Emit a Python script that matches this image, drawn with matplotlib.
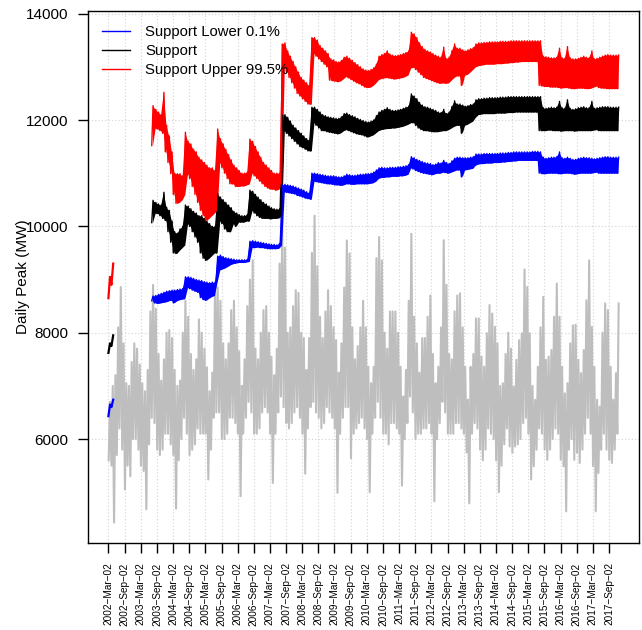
import matplotlib
matplotlib.use('Agg')
import matplotlib.pyplot as plt
from matplotlib.lines import Line2D
import numpy as np
import pandas as pd

plt.rcParams['font.family'] = ['Liberation Sans', 'DejaVu Sans']

# daily peak (MW): monthly low / high, 2002-03 .. 2017-12
peak_hi = [6700, 7000, 7200, 8100, 8860, 7800, 7050, 7000, 7450, 7800,
           7700, 7400, 7050, 6900, 7300, 8400, 8900, 8450, 7600, 7100, 7500, 8000,
           8050, 7900, 7300, 7000, 7100, 8000, 8600, 8300, 7600, 7300, 7500, 8250,
           8000, 7700, 7350, 6900, 7250, 8900, 8850, 8600, 7800, 7500, 7800, 8425,
           8600, 8100, 7650, 7000, 7500, 8500, 9000, 9360, 7700, 7500, 8000, 8425,
           8500, 8000, 7550, 7200, 7700, 9300, 10100, 9600, 8000, 8100, 8500, 8800,
           8750, 8000, 7900, 7300, 7900, 9500, 10200, 9250, 8300, 7900, 8400, 8800,
           8500, 8100, 7860, 7250, 7800, 8850, 9735, 9490, 8100, 7500, 7750, 8100,
           8600, 8100, 7360, 7050, 7360, 9400, 9800, 9360, 8000, 7700, 8400, 8400,
           8400, 8000, 7360, 6800, 7300, 8600, 9860, 8300, 7800, 7250, 7900, 7900,
           8300, 8700, 7600, 7050, 7360, 8100, 9740, 8900, 7600, 7500, 8400, 8700,
           8740, 8100, 7360, 6740, 7360, 7600, 8270, 8270, 7550, 7360, 7990, 8520,
           8360, 8110, 7800, 7000, 7050, 7600, 8000, 7700, 6990, 7490, 7860, 7990,
           9190, 8860, 7990, 7000, 6740, 7360, 8100, 8675, 7490, 7550, 7675, 8300,
           8925, 8300, 7360, 6860, 7050, 7800, 8140, 8150, 7490, 7240, 7675, 8610,
           9360, 8110, 7360, 6740, 6610, 8000, 8550, 8425, 7360, 6740, 7240, 8550]
peak_lo = [5600, 5500, 4430, 5700, 6200, 5800, 5050, 5500, 5300, 6000,
           6000, 5800, 5500, 5400, 4680, 5900, 6400, 6300, 5800, 5700, 5800, 6100,
           6100, 5900, 5700, 4690, 5600, 6000, 6400, 6100, 5700, 5800, 5900, 6200,
           6100, 6100, 6100, 5240, 5800, 6400, 6500, 6500, 6000, 6000, 6100, 6400,
           6400, 6300, 6100, 4925, 6100, 6400, 6700, 6500, 6100, 6100, 6200, 6500,
           6600, 6500, 6100, 5175, 6100, 6500, 6800, 6600, 6300, 6200, 6300, 6500,
           6600, 6400, 6100, 5350, 6200, 6600, 6700, 6500, 6400, 6200, 6300, 6600,
           6500, 6400, 6200, 4990, 6100, 6400, 6600, 6600, 5640, 6100, 6200, 6300,
           6400, 6200, 6000, 5000, 6100, 6400, 6700, 6400, 6100, 6100, 5900, 6300,
           6300, 6200, 6100, 5125, 6000, 6300, 6800, 6500, 6000, 6100, 6100, 6200,
           6200, 6300, 6100, 4830, 6000, 6300, 6700, 6500, 6100, 6100, 6100, 6300,
           6300, 6200, 6100, 5750, 4790, 6100, 6300, 6200, 5800, 5600, 5800, 6200,
           6100, 6000, 5600, 5000, 5500, 5900, 6200, 5860, 5740, 5860, 5900, 6000,
           6300, 6400, 6100, 5240, 5490, 5800, 6200, 6100, 5800, 5610, 5800, 6000,
           6200, 6100, 5610, 5490, 4640, 5800, 6000, 5610, 5740, 5550, 5800, 6100,
           6400, 6100, 5490, 4640, 5360, 5800, 6100, 5800, 5610, 5550, 5800, 6100]

# first short stretch of the support curves, Mar-Apr 2002
early_dates = ['2002-03-02', '2002-03-20', '2002-04-05', '2002-04-25']
early_lower = [6430, 6650, 6600, 6740]
early_support = [7620, 7800, 7750, 7950]
early_upper = [8650, 9050, 8900, 9300]

# support curves, monthly low / high, 2003-07 .. 2017-12
lower_lo = [8600, 8560, 8550, 8560, 8570, 8580,
            8600, 8610, 8560, 8600, 8620, 8630, 8640, 8850, 8830, 8800, 8780, 8760,
            8660, 8620, 8610, 8650, 8680, 8700, 8950, 9180, 9200, 9220, 9250, 9280,
            9300, 9310, 9320, 9320, 9320, 9330, 9340, 9600, 9600, 9610, 9600, 9600,
            9590, 9580, 9580, 9580, 9580, 9590, 9650, 10650, 10640, 10630, 10620, 10610,
            10580, 10570, 10550, 10530, 10520, 10510, 10850, 10840, 10830, 10820, 10810, 10800,
            10800, 10790, 10780, 10780, 10770, 10780, 10800, 10800, 10790, 10790, 10800, 10800,
            10800, 10800, 10800, 10810, 10820, 10850, 10900, 10920, 10920, 10930, 10930, 10940,
            10940, 10940, 10950, 10950, 10960, 10980, 11100, 11080, 11050, 11030, 11010, 11000,
            10990, 10980, 10970, 10990, 11000, 11000, 11020, 11010, 11000, 11020, 11040, 11060,
            11060, 10930, 11060, 11070, 11080, 11090, 11150, 11170, 11180, 11180, 11190, 11190,
            11190, 11200, 11200, 11200, 11210, 11210, 11220, 11220, 11230, 11230, 11240, 11240,
            11240, 11240, 11240, 11240, 11240, 11240, 11000, 10990, 10990, 11000, 11000, 11000,
            11000, 10990, 10990, 11000, 11000, 11000, 10990, 10980, 10990, 11000, 11000, 11000,
            11000, 11000, 11010, 11020, 11000, 11000, 11000, 11000, 11000, 11000, 11000, 11000]
lower_hi = [8690, 8700, 8720, 8740, 8760, 8780,
            8790, 8800, 8800, 8810, 8820, 8830, 9050, 9050, 9040, 9020, 9000, 8990,
            8980, 8960, 8950, 8940, 8950, 8950, 9440, 9460, 9430, 9410, 9400, 9390,
            9380, 9370, 9370, 9370, 9370, 9380, 9720, 9730, 9720, 9710, 9700, 9690,
            9680, 9670, 9660, 9660, 9650, 9680, 10780, 10790, 10780, 10770, 10760, 10740,
            10720, 10700, 10680, 10650, 10630, 11000, 11000, 10990, 10980, 10970, 10960, 10950,
            10950, 10950, 10940, 10930, 10930, 10950, 10980, 10970, 10960, 10960, 10970, 10980,
            10980, 10990, 10990, 11000, 11020, 11060, 11100, 11110, 11100, 11100, 11110, 11110,
            11110, 11120, 11120, 11130, 11140, 11160, 11310, 11290, 11260, 11240, 11220, 11200,
            11190, 11180, 11160, 11170, 11200, 11190, 11240, 11200, 11180, 11230, 11280, 11300,
            11300, 11290, 11290, 11290, 11300, 11310, 11360, 11360, 11360, 11370, 11370, 11370,
            11370, 11370, 11370, 11380, 11380, 11380, 11390, 11390, 11400, 11400, 11400, 11400,
            11400, 11400, 11400, 11410, 11410, 11410, 11400, 11300, 11280, 11290, 11300, 11300,
            11310, 11400, 11290, 11280, 11300, 11280, 11260, 11260, 11280, 11290, 11300, 11290,
            11290, 11280, 11270, 11280, 11290, 11300, 11310, 11310, 11300, 11300, 11300, 11300]

support_lo = [10070, 10250, 10240, 10200, 10150, 10110,
              9900, 9700, 9500, 9490, 9550, 9600, 9650, 10050, 10000, 9900, 9800, 9700,
              9500, 9400, 9360, 9400, 9450, 9500, 9500, 10100, 10050, 9950, 9900, 9900,
              10050, 10000, 10080, 10080, 10080, 10100, 10100, 10300, 10250, 10200, 10170, 10150,
              10150, 10150, 10140, 10150, 10150, 10160, 10200, 11800, 11750, 11700, 11650, 11600,
              11550, 11500, 11480, 11450, 11420, 11420, 11950, 11900, 11850, 11800, 11800, 11780,
              11770, 11760, 11750, 11740, 11760, 11800, 11820, 11800, 11780, 11760, 11740, 11730,
              11720, 11700, 11680, 11700, 11720, 11760, 11800, 11820, 11830, 11840, 11840, 11850,
              11850, 11860, 11870, 11880, 11900, 11920, 11950, 11950, 11900, 11850, 11820, 11800,
              11800, 11790, 11780, 11780, 11780, 11790, 11800, 11800, 11820, 11850, 11880, 11900,
              11900, 11750, 11900, 11920, 11950, 11980, 12050, 12100, 12110, 12120, 12120, 12120,
              12120, 12120, 12130, 12130, 12130, 12130, 12140, 12140, 12140, 12150, 12150, 12150,
              12150, 12150, 12150, 12150, 12150, 12150, 11800, 11800, 11800, 11810, 11810, 11800,
              11800, 11800, 11790, 11800, 11800, 11800, 11800, 11790, 11800, 11800, 11800, 11800,
              11800, 11800, 11810, 11820, 11800, 11800, 11800, 11800, 11800, 11800, 11800, 11800]
support_hi = [10490, 10450, 10420, 10400, 10640, 10360,
              10300, 10100, 9900, 9870, 9950, 10000, 10400, 10380, 10330, 10280, 10250, 10200,
              10200, 10150, 10100, 10050, 10000, 10000, 10620, 10550, 10500, 10450, 10400, 10350,
              10280, 10250, 10220, 10200, 10200, 10220, 10680, 10660, 10600, 10550, 10500, 10450,
              10420, 10380, 10350, 10330, 10320, 10330, 12100, 12100, 12050, 11980, 11900, 11850,
              11800, 11750, 11700, 11650, 11620, 12240, 12240, 12200, 12150, 12100, 12080, 12060,
              12050, 12040, 12030, 12030, 12060, 12120, 12130, 12100, 12080, 12060, 12030, 12010,
              11990, 11970, 11960, 11980, 12000, 12080, 12150, 12180, 12200, 12230, 12200, 12180,
              12180, 12190, 12200, 12220, 12240, 12260, 12490, 12450, 12400, 12330, 12280, 12250,
              12240, 12220, 12200, 12180, 12150, 12140, 12200, 12120, 12150, 12250, 12360, 12300,
              12300, 12280, 12260, 12270, 12290, 12300, 12380, 12400, 12400, 12410, 12410, 12420,
              12420, 12420, 12420, 12430, 12430, 12430, 12440, 12440, 12440, 12440, 12440, 12440,
              12440, 12440, 12440, 12440, 12440, 12440, 12440, 12230, 12220, 12230, 12240, 12230,
              12240, 12350, 12230, 12220, 12380, 12220, 12200, 12210, 12230, 12240, 12250, 12230,
              12230, 12350, 12220, 12230, 12240, 12250, 12250, 12250, 12240, 12240, 12240, 12240]

upper_lo = [11520, 11850, 11830, 11800, 11750, 11400,
            11200, 10990, 10600, 10430, 10450, 10500, 10600, 10990, 10900, 10750, 10600, 10450,
            10300, 10200, 10110, 10150, 10200, 10250, 10300, 11200, 11100, 11000, 10900, 10800,
            10800, 10750, 10750, 10760, 10760, 10780, 10800, 11000, 10950, 10900, 10850, 10800,
            10750, 10720, 10700, 10700, 10680, 10700, 10800, 12990, 12900, 12800, 12700, 12600,
            12500, 12450, 12400, 12350, 12300, 12300, 13250, 13200, 13150, 13100, 13050, 13000,
            12750, 12740, 12730, 12720, 12740, 12780, 12820, 12790, 12760, 12730, 12700, 12680,
            12650, 12620, 12610, 12620, 12650, 12700, 12760, 12780, 12790, 12800, 12790, 12780,
            12770, 12780, 12790, 12800, 12820, 12850, 12980, 12990, 12950, 12900, 12850, 12800,
            12780, 12760, 12740, 12720, 12700, 12690, 12700, 12690, 12700, 12750, 12800, 12830,
            12830, 12650, 12840, 12860, 12900, 12950, 13000, 13020, 13030, 13040, 13050, 13050,
            13050, 13050, 13060, 13060, 13060, 13070, 13070, 13080, 13080, 13090, 13090, 13100,
            13100, 13100, 13100, 13100, 13100, 13100, 12650, 12640, 12630, 12630, 12620, 12620,
            12620, 12610, 12600, 12610, 12610, 12600, 12590, 12590, 12600, 12600, 12600, 12590,
            12590, 12600, 12620, 12640, 12610, 12600, 12600, 12590, 12590, 12590, 12590, 12590]
upper_hi = [12270, 12200, 12150, 12100, 12520, 11900,
            11700, 11400, 11000, 10990, 10990, 10950, 11770, 11600, 11550, 11450, 11400, 11300,
            11250, 11200, 11150, 11100, 11100, 11050, 11830, 11650, 11550, 11450, 11350, 11250,
            11150, 11100, 11050, 11000, 11000, 11020, 11640, 11600, 11500, 11400, 11300, 11200,
            11150, 11100, 11050, 11000, 11000, 11000, 13430, 13450, 13300, 13200, 13100, 13000,
            12900, 12800, 12750, 12700, 12650, 13550, 13550, 13500, 13400, 13350, 13300, 13250,
            13150, 13130, 13100, 13090, 13120, 13180, 13200, 13160, 13120, 13080, 13040, 13000,
            12960, 12940, 12930, 12950, 12980, 13050, 13200, 13230, 13250, 13300, 13240, 13220,
            13210, 13220, 13230, 13250, 13270, 13300, 13650, 13620, 13550, 13450, 13380, 13330,
            13300, 13280, 13250, 13220, 13200, 13180, 13370, 13150, 13180, 13300, 13430, 13350,
            13350, 13320, 13300, 13320, 13340, 13360, 13430, 13450, 13450, 13460, 13460, 13470,
            13470, 13470, 13470, 13480, 13480, 13480, 13480, 13490, 13490, 13490, 13490, 13490,
            13490, 13490, 13490, 13490, 13490, 13490, 13490, 13200, 13190, 13180, 13170, 13170,
            13180, 13350, 13170, 13160, 13380, 13170, 13150, 13150, 13160, 13180, 13200, 13180,
            13170, 13300, 13150, 13160, 13180, 13200, 13220, 13230, 13220, 13220, 13220, 13220]

tick_dates = [pd.Timestamp(y, m, 2) for y in range(2002, 2018) for m in (3, 9)]
tick_labels = [f"{d.year}\u2212{d.strftime('%b')}\u2212{d.day:02d}" for d in tick_dates]


def zigzag(start, lo, hi):
    # each month: low early in the month, high in the second half
    months = pd.date_range(start, periods=len(lo), freq='MS')
    t = np.empty(2 * len(lo), dtype='datetime64[ns]')
    t[0::2] = (months + pd.Timedelta(days=4)).values
    t[1::2] = (months + pd.Timedelta(days=19)).values
    v = np.empty(2 * len(lo))
    v[0::2] = lo
    v[1::2] = hi
    return months + pd.Timedelta(days=12), t, v


fig = plt.figure(figsize=(6.42, 6.30), dpi=100)
ax = fig.add_axes([88 / 642, 87 / 630, 551 / 642, 532 / 630])

# dotted grid like R's grid()
for d in tick_dates:
    ax.axvline(d, color='#D3D3D3', lw=0.8, ls=(0, (1, 2)), zorder=0)
for v in range(6000, 14001, 2000):
    ax.axhline(v, color='#D3D3D3', lw=0.8, ls=(0, (1, 2)), zorder=0)

_, t, v = zigzag('2002-03-01', peak_lo, peak_hi)
ax.plot(t, v, color='#BEBEBE', lw=1.5, zorder=1)

ed = pd.to_datetime(early_dates)
series = [(lower_lo, lower_hi, early_lower, 'blue'),
          (support_lo, support_hi, early_support, 'black'),
          (upper_lo, upper_hi, early_upper, 'red')]
for lo, hi, early, col in series:
    mid, t, v = zigzag('2003-07-01', lo, hi)
    ax.fill_between(mid, lo, hi, color=col, lw=0, zorder=2)
    ax.plot(t, v, color=col, lw=1.0, zorder=3)
    ax.plot(ed, early, color=col, lw=1.6, zorder=3)

ax.set_xlim(pd.Timestamp('2001-07-14'), pd.Timestamp('2018-08-07'))
ax.set_ylim(4045, 14050)
ax.set_xticks(tick_dates)
ax.set_xticklabels(tick_labels, rotation=90, fontsize=7.2, va='top')
ax.set_yticks(range(6000, 14001, 2000))
ax.set_yticklabels([str(v) for v in range(6000, 14001, 2000)], fontsize=11)
ax.tick_params(axis='both', direction='out', length=7, width=1, pad=7)
for s in ax.spines.values():
    s.set_linewidth(1.0)
ax.set_ylabel('Daily Peak (MW)', fontsize=11)
ax.yaxis.set_label_coords(-0.105, 0.5)

handles = [Line2D([], [], color=c, lw=1) for c in ('blue', 'black', 'red')]
ax.legend(handles, ['Support Lower 0.1%', 'Support', 'Support Upper 99.5%'],
          loc='upper left', bbox_to_anchor=(0.025, 0.974), frameon=False,
          fontsize=10.7, handlelength=1.9, handletextpad=1.0,
          labelspacing=0.35, borderpad=0, borderaxespad=0)

fig.savefig('out.png', dpi=100)
